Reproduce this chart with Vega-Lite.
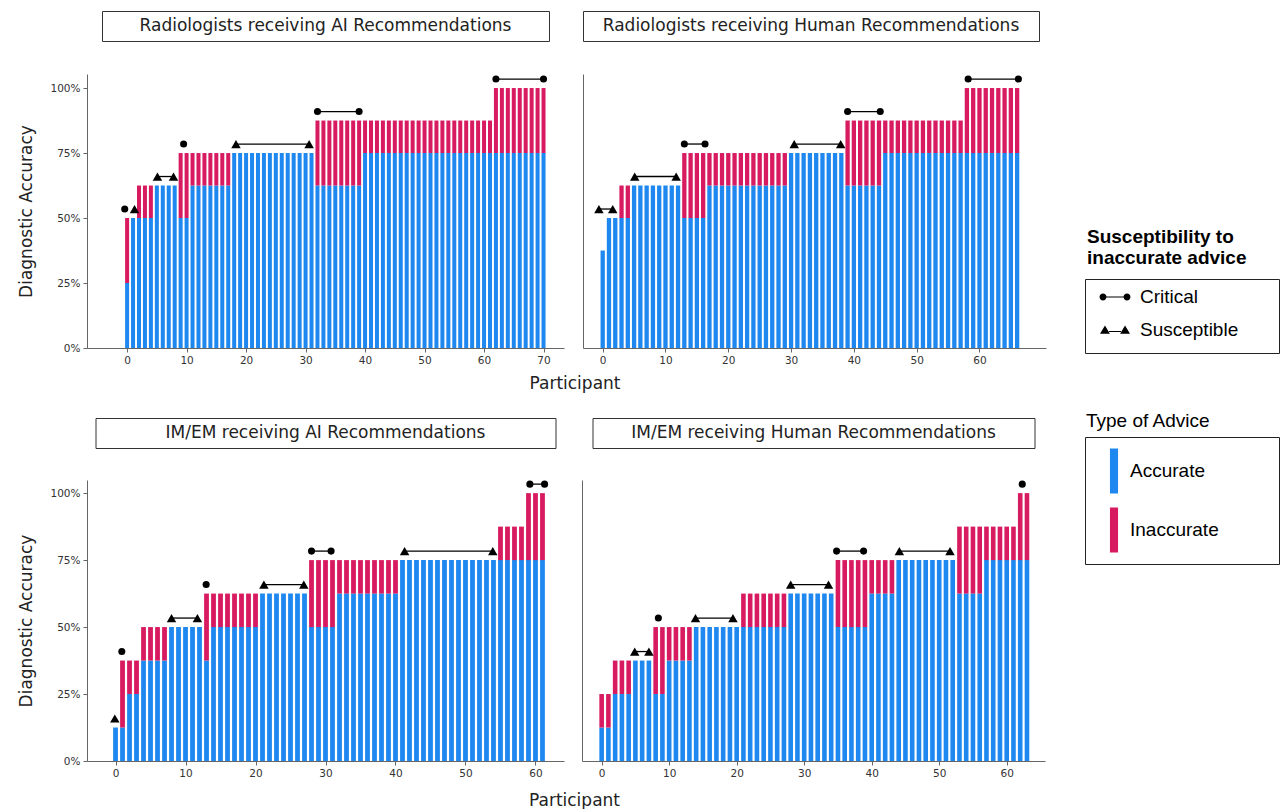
{
  "$schema": "https://vega.github.io/schema/vega-lite/v6.json",
  "background": "white",
  "padding": {"left": 17, "top": 10, "right": 0, "bottom": 0},
  "config": {
    "font": "DejaVu Sans",
    "view": {"stroke": null},
    "axis": {"labelFont": "DejaVu Sans", "labelFontSize": 10.5, "labelColor": "#333", "domainColor": "#666", "tickColor": "#666", "tickSize": 4, "labelPadding": 3, "grid": false, "titleFont": "DejaVu Sans", "titleFontSize": 17, "titleFontWeight": "normal", "titleColor": "#222"},
    "title": {"font": "DejaVu Sans", "fontWeight": "normal", "color": "#222"}
  },
  "datasets": {
    "ra": [
      {"p":0,"Accurate":0.25,"Inaccurate":0.25},{"p":1,"Accurate":0.5,"Inaccurate":0},{"p":2,"Accurate":0.5,"Inaccurate":0.125},{"p":3,"Accurate":0.5,"Inaccurate":0.125},{"p":4,"Accurate":0.5,"Inaccurate":0.125},
      {"p":5,"Accurate":0.625,"Inaccurate":0},{"p":6,"Accurate":0.625,"Inaccurate":0},{"p":7,"Accurate":0.625,"Inaccurate":0},{"p":8,"Accurate":0.625,"Inaccurate":0},
      {"p":9,"Accurate":0.5,"Inaccurate":0.25},{"p":10,"Accurate":0.5,"Inaccurate":0.25},
      {"p":11,"Accurate":0.625,"Inaccurate":0.125},{"p":12,"Accurate":0.625,"Inaccurate":0.125},{"p":13,"Accurate":0.625,"Inaccurate":0.125},{"p":14,"Accurate":0.625,"Inaccurate":0.125},{"p":15,"Accurate":0.625,"Inaccurate":0.125},{"p":16,"Accurate":0.625,"Inaccurate":0.125},{"p":17,"Accurate":0.625,"Inaccurate":0.125},
      {"p":18,"Accurate":0.75,"Inaccurate":0},{"p":19,"Accurate":0.75,"Inaccurate":0},{"p":20,"Accurate":0.75,"Inaccurate":0},{"p":21,"Accurate":0.75,"Inaccurate":0},{"p":22,"Accurate":0.75,"Inaccurate":0},{"p":23,"Accurate":0.75,"Inaccurate":0},{"p":24,"Accurate":0.75,"Inaccurate":0},{"p":25,"Accurate":0.75,"Inaccurate":0},{"p":26,"Accurate":0.75,"Inaccurate":0},{"p":27,"Accurate":0.75,"Inaccurate":0},{"p":28,"Accurate":0.75,"Inaccurate":0},{"p":29,"Accurate":0.75,"Inaccurate":0},{"p":30,"Accurate":0.75,"Inaccurate":0},{"p":31,"Accurate":0.75,"Inaccurate":0},
      {"p":32,"Accurate":0.625,"Inaccurate":0.25},{"p":33,"Accurate":0.625,"Inaccurate":0.25},{"p":34,"Accurate":0.625,"Inaccurate":0.25},{"p":35,"Accurate":0.625,"Inaccurate":0.25},{"p":36,"Accurate":0.625,"Inaccurate":0.25},{"p":37,"Accurate":0.625,"Inaccurate":0.25},{"p":38,"Accurate":0.625,"Inaccurate":0.25},{"p":39,"Accurate":0.625,"Inaccurate":0.25},
      {"p":40,"Accurate":0.75,"Inaccurate":0.125},{"p":41,"Accurate":0.75,"Inaccurate":0.125},{"p":42,"Accurate":0.75,"Inaccurate":0.125},{"p":43,"Accurate":0.75,"Inaccurate":0.125},{"p":44,"Accurate":0.75,"Inaccurate":0.125},{"p":45,"Accurate":0.75,"Inaccurate":0.125},{"p":46,"Accurate":0.75,"Inaccurate":0.125},{"p":47,"Accurate":0.75,"Inaccurate":0.125},{"p":48,"Accurate":0.75,"Inaccurate":0.125},{"p":49,"Accurate":0.75,"Inaccurate":0.125},{"p":50,"Accurate":0.75,"Inaccurate":0.125},{"p":51,"Accurate":0.75,"Inaccurate":0.125},{"p":52,"Accurate":0.75,"Inaccurate":0.125},{"p":53,"Accurate":0.75,"Inaccurate":0.125},{"p":54,"Accurate":0.75,"Inaccurate":0.125},{"p":55,"Accurate":0.75,"Inaccurate":0.125},{"p":56,"Accurate":0.75,"Inaccurate":0.125},{"p":57,"Accurate":0.75,"Inaccurate":0.125},{"p":58,"Accurate":0.75,"Inaccurate":0.125},{"p":59,"Accurate":0.75,"Inaccurate":0.125},{"p":60,"Accurate":0.75,"Inaccurate":0.125},{"p":61,"Accurate":0.75,"Inaccurate":0.125},
      {"p":62,"Accurate":0.75,"Inaccurate":0.25},{"p":63,"Accurate":0.75,"Inaccurate":0.25},{"p":64,"Accurate":0.75,"Inaccurate":0.25},{"p":65,"Accurate":0.75,"Inaccurate":0.25},{"p":66,"Accurate":0.75,"Inaccurate":0.25},{"p":67,"Accurate":0.75,"Inaccurate":0.25},{"p":68,"Accurate":0.75,"Inaccurate":0.25},{"p":69,"Accurate":0.75,"Inaccurate":0.25},{"p":70,"Accurate":0.75,"Inaccurate":0.25}
    ],
    "rh": [
      {"p":0,"Accurate":0.375,"Inaccurate":0},{"p":1,"Accurate":0.5,"Inaccurate":0},{"p":2,"Accurate":0.5,"Inaccurate":0},{"p":3,"Accurate":0.5,"Inaccurate":0.125},{"p":4,"Accurate":0.5,"Inaccurate":0.125},
      {"p":5,"Accurate":0.625,"Inaccurate":0},{"p":6,"Accurate":0.625,"Inaccurate":0},{"p":7,"Accurate":0.625,"Inaccurate":0},{"p":8,"Accurate":0.625,"Inaccurate":0},{"p":9,"Accurate":0.625,"Inaccurate":0},{"p":10,"Accurate":0.625,"Inaccurate":0},{"p":11,"Accurate":0.625,"Inaccurate":0},{"p":12,"Accurate":0.625,"Inaccurate":0},
      {"p":13,"Accurate":0.5,"Inaccurate":0.25},{"p":14,"Accurate":0.5,"Inaccurate":0.25},{"p":15,"Accurate":0.5,"Inaccurate":0.25},{"p":16,"Accurate":0.5,"Inaccurate":0.25},
      {"p":17,"Accurate":0.625,"Inaccurate":0.125},{"p":18,"Accurate":0.625,"Inaccurate":0.125},{"p":19,"Accurate":0.625,"Inaccurate":0.125},{"p":20,"Accurate":0.625,"Inaccurate":0.125},{"p":21,"Accurate":0.625,"Inaccurate":0.125},{"p":22,"Accurate":0.625,"Inaccurate":0.125},{"p":23,"Accurate":0.625,"Inaccurate":0.125},{"p":24,"Accurate":0.625,"Inaccurate":0.125},{"p":25,"Accurate":0.625,"Inaccurate":0.125},{"p":26,"Accurate":0.625,"Inaccurate":0.125},{"p":27,"Accurate":0.625,"Inaccurate":0.125},{"p":28,"Accurate":0.625,"Inaccurate":0.125},{"p":29,"Accurate":0.625,"Inaccurate":0.125},
      {"p":30,"Accurate":0.75,"Inaccurate":0},{"p":31,"Accurate":0.75,"Inaccurate":0},{"p":32,"Accurate":0.75,"Inaccurate":0},{"p":33,"Accurate":0.75,"Inaccurate":0},{"p":34,"Accurate":0.75,"Inaccurate":0},{"p":35,"Accurate":0.75,"Inaccurate":0},{"p":36,"Accurate":0.75,"Inaccurate":0},{"p":37,"Accurate":0.75,"Inaccurate":0},{"p":38,"Accurate":0.75,"Inaccurate":0},
      {"p":39,"Accurate":0.625,"Inaccurate":0.25},{"p":40,"Accurate":0.625,"Inaccurate":0.25},{"p":41,"Accurate":0.625,"Inaccurate":0.25},{"p":42,"Accurate":0.625,"Inaccurate":0.25},{"p":43,"Accurate":0.625,"Inaccurate":0.25},{"p":44,"Accurate":0.625,"Inaccurate":0.25},
      {"p":45,"Accurate":0.75,"Inaccurate":0.125},{"p":46,"Accurate":0.75,"Inaccurate":0.125},{"p":47,"Accurate":0.75,"Inaccurate":0.125},{"p":48,"Accurate":0.75,"Inaccurate":0.125},{"p":49,"Accurate":0.75,"Inaccurate":0.125},{"p":50,"Accurate":0.75,"Inaccurate":0.125},{"p":51,"Accurate":0.75,"Inaccurate":0.125},{"p":52,"Accurate":0.75,"Inaccurate":0.125},{"p":53,"Accurate":0.75,"Inaccurate":0.125},{"p":54,"Accurate":0.75,"Inaccurate":0.125},{"p":55,"Accurate":0.75,"Inaccurate":0.125},{"p":56,"Accurate":0.75,"Inaccurate":0.125},{"p":57,"Accurate":0.75,"Inaccurate":0.125},
      {"p":58,"Accurate":0.75,"Inaccurate":0.25},{"p":59,"Accurate":0.75,"Inaccurate":0.25},{"p":60,"Accurate":0.75,"Inaccurate":0.25},{"p":61,"Accurate":0.75,"Inaccurate":0.25},{"p":62,"Accurate":0.75,"Inaccurate":0.25},{"p":63,"Accurate":0.75,"Inaccurate":0.25},{"p":64,"Accurate":0.75,"Inaccurate":0.25},{"p":65,"Accurate":0.75,"Inaccurate":0.25},{"p":66,"Accurate":0.75,"Inaccurate":0.25}
    ],
    "ia": [
      {"p":0,"Accurate":0.125,"Inaccurate":0},{"p":1,"Accurate":0.125,"Inaccurate":0.25},{"p":2,"Accurate":0.25,"Inaccurate":0.125},{"p":3,"Accurate":0.25,"Inaccurate":0.125},
      {"p":4,"Accurate":0.375,"Inaccurate":0.125},{"p":5,"Accurate":0.375,"Inaccurate":0.125},{"p":6,"Accurate":0.375,"Inaccurate":0.125},{"p":7,"Accurate":0.375,"Inaccurate":0.125},
      {"p":8,"Accurate":0.5,"Inaccurate":0},{"p":9,"Accurate":0.5,"Inaccurate":0},{"p":10,"Accurate":0.5,"Inaccurate":0},{"p":11,"Accurate":0.5,"Inaccurate":0},{"p":12,"Accurate":0.5,"Inaccurate":0},
      {"p":13,"Accurate":0.375,"Inaccurate":0.25},
      {"p":14,"Accurate":0.5,"Inaccurate":0.125},{"p":15,"Accurate":0.5,"Inaccurate":0.125},{"p":16,"Accurate":0.5,"Inaccurate":0.125},{"p":17,"Accurate":0.5,"Inaccurate":0.125},{"p":18,"Accurate":0.5,"Inaccurate":0.125},{"p":19,"Accurate":0.5,"Inaccurate":0.125},{"p":20,"Accurate":0.5,"Inaccurate":0.125},
      {"p":21,"Accurate":0.625,"Inaccurate":0},{"p":22,"Accurate":0.625,"Inaccurate":0},{"p":23,"Accurate":0.625,"Inaccurate":0},{"p":24,"Accurate":0.625,"Inaccurate":0},{"p":25,"Accurate":0.625,"Inaccurate":0},{"p":26,"Accurate":0.625,"Inaccurate":0},{"p":27,"Accurate":0.625,"Inaccurate":0},
      {"p":28,"Accurate":0.5,"Inaccurate":0.25},{"p":29,"Accurate":0.5,"Inaccurate":0.25},{"p":30,"Accurate":0.5,"Inaccurate":0.25},{"p":31,"Accurate":0.5,"Inaccurate":0.25},
      {"p":32,"Accurate":0.625,"Inaccurate":0.125},{"p":33,"Accurate":0.625,"Inaccurate":0.125},{"p":34,"Accurate":0.625,"Inaccurate":0.125},{"p":35,"Accurate":0.625,"Inaccurate":0.125},{"p":36,"Accurate":0.625,"Inaccurate":0.125},{"p":37,"Accurate":0.625,"Inaccurate":0.125},{"p":38,"Accurate":0.625,"Inaccurate":0.125},{"p":39,"Accurate":0.625,"Inaccurate":0.125},{"p":40,"Accurate":0.625,"Inaccurate":0.125},
      {"p":41,"Accurate":0.75,"Inaccurate":0},{"p":42,"Accurate":0.75,"Inaccurate":0},{"p":43,"Accurate":0.75,"Inaccurate":0},{"p":44,"Accurate":0.75,"Inaccurate":0},{"p":45,"Accurate":0.75,"Inaccurate":0},{"p":46,"Accurate":0.75,"Inaccurate":0},{"p":47,"Accurate":0.75,"Inaccurate":0},{"p":48,"Accurate":0.75,"Inaccurate":0},{"p":49,"Accurate":0.75,"Inaccurate":0},{"p":50,"Accurate":0.75,"Inaccurate":0},{"p":51,"Accurate":0.75,"Inaccurate":0},{"p":52,"Accurate":0.75,"Inaccurate":0},{"p":53,"Accurate":0.75,"Inaccurate":0},{"p":54,"Accurate":0.75,"Inaccurate":0},
      {"p":55,"Accurate":0.75,"Inaccurate":0.125},{"p":56,"Accurate":0.75,"Inaccurate":0.125},{"p":57,"Accurate":0.75,"Inaccurate":0.125},{"p":58,"Accurate":0.75,"Inaccurate":0.125},
      {"p":59,"Accurate":0.75,"Inaccurate":0.25},{"p":60,"Accurate":0.75,"Inaccurate":0.25},{"p":61,"Accurate":0.75,"Inaccurate":0.25}
    ],
    "ih": [
      {"p":0,"Accurate":0.125,"Inaccurate":0.125},{"p":1,"Accurate":0.125,"Inaccurate":0.125},
      {"p":2,"Accurate":0.25,"Inaccurate":0.125},{"p":3,"Accurate":0.25,"Inaccurate":0.125},{"p":4,"Accurate":0.25,"Inaccurate":0.125},
      {"p":5,"Accurate":0.375,"Inaccurate":0},{"p":6,"Accurate":0.375,"Inaccurate":0},{"p":7,"Accurate":0.375,"Inaccurate":0},
      {"p":8,"Accurate":0.25,"Inaccurate":0.25},{"p":9,"Accurate":0.25,"Inaccurate":0.25},
      {"p":10,"Accurate":0.375,"Inaccurate":0.125},{"p":11,"Accurate":0.375,"Inaccurate":0.125},{"p":12,"Accurate":0.375,"Inaccurate":0.125},{"p":13,"Accurate":0.375,"Inaccurate":0.125},
      {"p":14,"Accurate":0.5,"Inaccurate":0},{"p":15,"Accurate":0.5,"Inaccurate":0},{"p":16,"Accurate":0.5,"Inaccurate":0},{"p":17,"Accurate":0.5,"Inaccurate":0},{"p":18,"Accurate":0.5,"Inaccurate":0},{"p":19,"Accurate":0.5,"Inaccurate":0},{"p":20,"Accurate":0.5,"Inaccurate":0},
      {"p":21,"Accurate":0.5,"Inaccurate":0.125},{"p":22,"Accurate":0.5,"Inaccurate":0.125},{"p":23,"Accurate":0.5,"Inaccurate":0.125},{"p":24,"Accurate":0.5,"Inaccurate":0.125},{"p":25,"Accurate":0.5,"Inaccurate":0.125},{"p":26,"Accurate":0.5,"Inaccurate":0.125},{"p":27,"Accurate":0.5,"Inaccurate":0.125},
      {"p":28,"Accurate":0.625,"Inaccurate":0},{"p":29,"Accurate":0.625,"Inaccurate":0},{"p":30,"Accurate":0.625,"Inaccurate":0},{"p":31,"Accurate":0.625,"Inaccurate":0},{"p":32,"Accurate":0.625,"Inaccurate":0},{"p":33,"Accurate":0.625,"Inaccurate":0},{"p":34,"Accurate":0.625,"Inaccurate":0},
      {"p":35,"Accurate":0.5,"Inaccurate":0.25},{"p":36,"Accurate":0.5,"Inaccurate":0.25},{"p":37,"Accurate":0.5,"Inaccurate":0.25},{"p":38,"Accurate":0.5,"Inaccurate":0.25},{"p":39,"Accurate":0.5,"Inaccurate":0.25},
      {"p":40,"Accurate":0.625,"Inaccurate":0.125},{"p":41,"Accurate":0.625,"Inaccurate":0.125},{"p":42,"Accurate":0.625,"Inaccurate":0.125},{"p":43,"Accurate":0.625,"Inaccurate":0.125},
      {"p":44,"Accurate":0.75,"Inaccurate":0},{"p":45,"Accurate":0.75,"Inaccurate":0},{"p":46,"Accurate":0.75,"Inaccurate":0},{"p":47,"Accurate":0.75,"Inaccurate":0},{"p":48,"Accurate":0.75,"Inaccurate":0},{"p":49,"Accurate":0.75,"Inaccurate":0},{"p":50,"Accurate":0.75,"Inaccurate":0},{"p":51,"Accurate":0.75,"Inaccurate":0},{"p":52,"Accurate":0.75,"Inaccurate":0},
      {"p":53,"Accurate":0.625,"Inaccurate":0.25},{"p":54,"Accurate":0.625,"Inaccurate":0.25},{"p":55,"Accurate":0.625,"Inaccurate":0.25},{"p":56,"Accurate":0.625,"Inaccurate":0.25},
      {"p":57,"Accurate":0.75,"Inaccurate":0.125},{"p":58,"Accurate":0.75,"Inaccurate":0.125},{"p":59,"Accurate":0.75,"Inaccurate":0.125},{"p":60,"Accurate":0.75,"Inaccurate":0.125},{"p":61,"Accurate":0.75,"Inaccurate":0.125},
      {"p":62,"Accurate":0.75,"Inaccurate":0.25},{"p":63,"Accurate":0.75,"Inaccurate":0.25}
    ],
    "m": [
      {"panel":"RA","g":1,"type":"Critical","x":-0.4,"level":0.5},
      {"panel":"RA","g":2,"type":"Susceptible","x":1.25,"level":0.5},
      {"panel":"RA","g":3,"type":"Susceptible","x":5.1,"level":0.625},{"panel":"RA","g":3,"type":"Susceptible","x":7.8,"level":0.625},
      {"panel":"RA","g":4,"type":"Critical","x":9.5,"level":0.75},
      {"panel":"RA","g":5,"type":"Susceptible","x":18.3,"level":0.75},{"panel":"RA","g":5,"type":"Susceptible","x":30.6,"level":0.75},
      {"panel":"RA","g":6,"type":"Critical","x":32,"level":0.875},{"panel":"RA","g":6,"type":"Critical","x":39,"level":0.875},
      {"panel":"RA","g":7,"type":"Critical","x":62,"level":1},{"panel":"RA","g":7,"type":"Critical","x":70,"level":1},
      {"panel":"RH","g":1,"type":"Susceptible","x":-0.6,"level":0.5},{"panel":"RH","g":1,"type":"Susceptible","x":1.6,"level":0.5},
      {"panel":"RH","g":2,"type":"Susceptible","x":5.1,"level":0.625},{"panel":"RH","g":2,"type":"Susceptible","x":11.7,"level":0.625},
      {"panel":"RH","g":3,"type":"Critical","x":13,"level":0.75},{"panel":"RH","g":3,"type":"Critical","x":16.3,"level":0.75},
      {"panel":"RH","g":4,"type":"Susceptible","x":30.5,"level":0.75},{"panel":"RH","g":4,"type":"Susceptible","x":37.9,"level":0.75},
      {"panel":"RH","g":5,"type":"Critical","x":39,"level":0.875},{"panel":"RH","g":5,"type":"Critical","x":44.2,"level":0.875},
      {"panel":"RH","g":6,"type":"Critical","x":58.2,"level":1},{"panel":"RH","g":6,"type":"Critical","x":66.2,"level":1},
      {"panel":"IA","g":1,"type":"Susceptible","x":-0.1,"level":0.125},
      {"panel":"IA","g":2,"type":"Critical","x":0.9,"level":0.375},
      {"panel":"IA","g":3,"type":"Susceptible","x":8,"level":0.5},{"panel":"IA","g":3,"type":"Susceptible","x":11.7,"level":0.5},
      {"panel":"IA","g":4,"type":"Critical","x":12.95,"level":0.625},
      {"panel":"IA","g":5,"type":"Susceptible","x":21.2,"level":0.625},{"panel":"IA","g":5,"type":"Susceptible","x":26.9,"level":0.625},
      {"panel":"IA","g":6,"type":"Critical","x":28,"level":0.75},{"panel":"IA","g":6,"type":"Critical","x":30.8,"level":0.75},
      {"panel":"IA","g":7,"type":"Susceptible","x":41.3,"level":0.75},{"panel":"IA","g":7,"type":"Susceptible","x":53.9,"level":0.75},
      {"panel":"IA","g":8,"type":"Critical","x":59.2,"level":1},{"panel":"IA","g":8,"type":"Critical","x":61.3,"level":1},
      {"panel":"IH","g":1,"type":"Susceptible","x":4.9,"level":0.375},{"panel":"IH","g":1,"type":"Susceptible","x":7,"level":0.375},
      {"panel":"IH","g":2,"type":"Critical","x":8.4,"level":0.5},
      {"panel":"IH","g":3,"type":"Susceptible","x":13.9,"level":0.5},{"panel":"IH","g":3,"type":"Susceptible","x":19.45,"level":0.5},
      {"panel":"IH","g":4,"type":"Susceptible","x":28,"level":0.625},{"panel":"IH","g":4,"type":"Susceptible","x":33.6,"level":0.625},
      {"panel":"IH","g":5,"type":"Critical","x":34.8,"level":0.75},{"panel":"IH","g":5,"type":"Critical","x":38.8,"level":0.75},
      {"panel":"IH","g":6,"type":"Susceptible","x":44.1,"level":0.75},{"panel":"IH","g":6,"type":"Susceptible","x":51.6,"level":0.75},
      {"panel":"IH","g":7,"type":"Critical","x":62.3,"level":1}
    ]
  },
  "resolve": {"scale": {"color": "independent", "shape": "independent"}, "legend": {"color": "independent", "shape": "independent"}},
  "spacing": 38,
  "hconcat": [
    {
      "vconcat": [
        {
          "hconcat": [
            {
              "vconcat": [
                {"width": 447, "height": 30, "view": {"stroke": "#333", "strokeWidth": 1}, "data": {"values": [{"t": "Radiologists receiving AI Recommendations"}]}, "mark": {"type": "text", "fontSize": 17, "baseline": "middle", "align": "center", "color": "#222"}, "encoding": {"text": {"field": "t"}}},
                {
                  "width": 477, "height": 274,
                  "layer": [
                    {"data": {"name": "ra"}, "transform": [{"fold": ["Accurate", "Inaccurate"], "as": ["advice", "value"]}, {"filter": "datum.value > 0"}],
                     "mark": {"type": "bar", "width": 4},
                     "encoding": {
                       "x": {"field": "p", "type": "quantitative", "title": null, "scale": {"domain": [-5.9, 72.6], "nice": false, "zero": false}, "axis": {"values": [0, 10, 20, 30, 40, 50, 60, 70]}},
                       "y": {"field": "value", "type": "quantitative", "title": "Diagnostic Accuracy", "stack": "zero", "scale": {"domain": [0, 1.054], "nice": false}, "axis": {"values": [0, 0.25, 0.5, 0.75, 1], "format": ".0%", "titlePadding": 14}},
                       "color": {"field": "advice", "type": "nominal", "scale": {"domain": ["Accurate", "Inaccurate"], "range": ["#1e88f0", "#d81b60"]}, "legend": null},
                       "order": {"field": "advice", "type": "nominal", "sort": "ascending"}}},
                    {"data": {"name": "m"}, "transform": [{"filter": "datum.panel == 'RA'"}], "mark": {"type": "rule", "color": "black", "strokeWidth": 1.3, "yOffset": -9},
                     "encoding": {"x": {"aggregate": "min", "field": "x", "type": "quantitative", "title": null}, "x2": {"aggregate": "max", "field": "x"}, "y": {"field": "level", "type": "quantitative", "title": "Diagnostic Accuracy"}, "detail": {"field": "g", "type": "nominal"}}},
                    {"data": {"name": "m"}, "transform": [{"filter": "datum.panel == 'RA' && datum.type == 'Critical'"}], "mark": {"type": "point", "shape": "circle", "filled": true, "color": "black", "opacity": 1, "size": 50, "yOffset": -9},
                     "encoding": {"x": {"field": "x", "type": "quantitative", "title": null}, "y": {"field": "level", "type": "quantitative", "title": "Diagnostic Accuracy"}}},
                    {"data": {"name": "m"}, "transform": [{"filter": "datum.panel == 'RA' && datum.type == 'Susceptible'"}], "mark": {"type": "point", "shape": "triangle-up", "filled": true, "color": "black", "opacity": 1, "size": 90, "yOffset": -9},
                     "encoding": {"x": {"field": "x", "type": "quantitative", "title": null}, "y": {"field": "level", "type": "quantitative", "title": "Diagnostic Accuracy"}}}
                  ]
                }
              ],
              "spacing": 33, "center": true, "bounds": "flush"
            },
            {
              "vconcat": [
                {"width": 456, "height": 30, "view": {"stroke": "#333", "strokeWidth": 1}, "data": {"values": [{"t": "Radiologists receiving Human Recommendations"}]}, "mark": {"type": "text", "fontSize": 17, "baseline": "middle", "align": "center", "color": "#222"}, "encoding": {"text": {"field": "t"}}},
                {
                  "width": 463, "height": 274,
                  "layer": [
                    {"data": {"name": "rh"}, "transform": [{"fold": ["Accurate", "Inaccurate"], "as": ["advice", "value"]}, {"filter": "datum.value > 0"}],
                     "mark": {"type": "bar", "width": 4.3},
                     "encoding": {
                       "x": {"field": "p", "type": "quantitative", "title": null, "scale": {"domain": [-2.34, 69.8], "nice": false, "zero": false}, "axis": {"values": [0, 10, 20, 30, 40, 50, 60]}},
                       "y": {"field": "value", "type": "quantitative", "title": null, "stack": "zero", "scale": {"domain": [0, 1.054], "nice": false}, "axis": {"ticks": false, "labels": false}},
                       "color": {"field": "advice", "type": "nominal", "scale": {"domain": ["Accurate", "Inaccurate"], "range": ["#1e88f0", "#d81b60"]}, "legend": null},
                       "order": {"field": "advice", "type": "nominal", "sort": "ascending"}}},
                    {"data": {"name": "m"}, "transform": [{"filter": "datum.panel == 'RH'"}], "mark": {"type": "rule", "color": "black", "strokeWidth": 1.3, "yOffset": -9},
                     "encoding": {"x": {"aggregate": "min", "field": "x", "type": "quantitative", "title": null}, "x2": {"aggregate": "max", "field": "x"}, "y": {"field": "level", "type": "quantitative", "title": null}, "detail": {"field": "g", "type": "nominal"}}},
                    {"data": {"name": "m"}, "transform": [{"filter": "datum.panel == 'RH' && datum.type == 'Critical'"}], "mark": {"type": "point", "shape": "circle", "filled": true, "color": "black", "opacity": 1, "size": 50, "yOffset": -9},
                     "encoding": {"x": {"field": "x", "type": "quantitative", "title": null}, "y": {"field": "level", "type": "quantitative", "title": null}}},
                    {"data": {"name": "m"}, "transform": [{"filter": "datum.panel == 'RH' && datum.type == 'Susceptible'"}], "mark": {"type": "point", "shape": "triangle-up", "filled": true, "color": "black", "opacity": 1, "size": 90, "yOffset": -9},
                     "encoding": {"x": {"field": "x", "type": "quantitative", "title": null}, "y": {"field": "level", "type": "quantitative", "title": null}}}
                  ]
                }
              ],
              "spacing": 33, "bounds": "flush"
            }
          ],
          "spacing": 18,
          "title": {"text": "Participant", "orient": "bottom", "anchor": "middle", "dx": 43, "offset": 10, "fontSize": 17, "fontWeight": "normal", "font": "DejaVu Sans", "color": "#222"}
        },
        {
          "hconcat": [
            {
              "vconcat": [
                {"width": 460, "height": 30, "view": {"stroke": "#333", "strokeWidth": 1}, "data": {"values": [{"t": "IM/EM receiving AI Recommendations"}]}, "mark": {"type": "text", "fontSize": 17, "baseline": "middle", "align": "center", "color": "#222"}, "encoding": {"text": {"field": "t"}}},
                {
                  "width": 477, "height": 281,
                  "layer": [
                    {"data": {"name": "ia"}, "transform": [{"fold": ["Accurate", "Inaccurate"], "as": ["advice", "value"]}, {"filter": "datum.value > 0"}],
                     "mark": {"type": "bar", "width": 4.8},
                     "encoding": {
                       "x": {"field": "p", "type": "quantitative", "title": null, "scale": {"domain": [-3.36, 63.36], "nice": false, "zero": false}, "axis": {"values": [0, 10, 20, 30, 40, 50, 60]}},
                       "y": {"field": "value", "type": "quantitative", "title": "Diagnostic Accuracy", "stack": "zero", "scale": {"domain": [0, 1.049], "nice": false}, "axis": {"values": [0, 0.25, 0.5, 0.75, 1], "format": ".0%", "titlePadding": 14}},
                       "color": {"field": "advice", "type": "nominal", "scale": {"domain": ["Accurate", "Inaccurate"], "range": ["#1e88f0", "#d81b60"]}, "legend": null},
                       "order": {"field": "advice", "type": "nominal", "sort": "ascending"}}},
                    {"data": {"name": "m"}, "transform": [{"filter": "datum.panel == 'IA'"}], "mark": {"type": "rule", "color": "black", "strokeWidth": 1.3, "yOffset": -9},
                     "encoding": {"x": {"aggregate": "min", "field": "x", "type": "quantitative", "title": null}, "x2": {"aggregate": "max", "field": "x"}, "y": {"field": "level", "type": "quantitative", "title": "Diagnostic Accuracy"}, "detail": {"field": "g", "type": "nominal"}}},
                    {"data": {"name": "m"}, "transform": [{"filter": "datum.panel == 'IA' && datum.type == 'Critical'"}], "mark": {"type": "point", "shape": "circle", "filled": true, "color": "black", "opacity": 1, "size": 50, "yOffset": -9},
                     "encoding": {"x": {"field": "x", "type": "quantitative", "title": null}, "y": {"field": "level", "type": "quantitative", "title": "Diagnostic Accuracy"}}},
                    {"data": {"name": "m"}, "transform": [{"filter": "datum.panel == 'IA' && datum.type == 'Susceptible'"}], "mark": {"type": "point", "shape": "triangle-up", "filled": true, "color": "black", "opacity": 1, "size": 90, "yOffset": -9},
                     "encoding": {"x": {"field": "x", "type": "quantitative", "title": null}, "y": {"field": "level", "type": "quantitative", "title": "Diagnostic Accuracy"}}}
                  ]
                }
              ],
              "spacing": 32, "center": true, "bounds": "flush"
            },
            {
              "vconcat": [
                {"width": 442, "height": 30, "view": {"stroke": "#333", "strokeWidth": 1}, "data": {"values": [{"t": "IM/EM receiving Human Recommendations"}]}, "mark": {"type": "text", "fontSize": 17, "baseline": "middle", "align": "center", "color": "#222"}, "encoding": {"text": {"field": "t"}}},
                {
                  "width": 463, "height": 281,
                  "layer": [
                    {"data": {"name": "ih"}, "transform": [{"fold": ["Accurate", "Inaccurate"], "as": ["advice", "value"]}, {"filter": "datum.value > 0"}],
                     "mark": {"type": "bar", "width": 4.6},
                     "encoding": {
                       "x": {"field": "p", "type": "quantitative", "title": null, "scale": {"domain": [-2.17, 64.93], "nice": false, "zero": false}, "axis": {"values": [0, 10, 20, 30, 40, 50, 60]}},
                       "y": {"field": "value", "type": "quantitative", "title": null, "stack": "zero", "scale": {"domain": [0, 1.049], "nice": false}, "axis": {"ticks": false, "labels": false}},
                       "color": {"field": "advice", "type": "nominal", "scale": {"domain": ["Accurate", "Inaccurate"], "range": ["#1e88f0", "#d81b60"]}, "legend": null},
                       "order": {"field": "advice", "type": "nominal", "sort": "ascending"}}},
                    {"data": {"name": "m"}, "transform": [{"filter": "datum.panel == 'IH'"}], "mark": {"type": "rule", "color": "black", "strokeWidth": 1.3, "yOffset": -9},
                     "encoding": {"x": {"aggregate": "min", "field": "x", "type": "quantitative", "title": null}, "x2": {"aggregate": "max", "field": "x"}, "y": {"field": "level", "type": "quantitative", "title": null}, "detail": {"field": "g", "type": "nominal"}}},
                    {"data": {"name": "m"}, "transform": [{"filter": "datum.panel == 'IH' && datum.type == 'Critical'"}], "mark": {"type": "point", "shape": "circle", "filled": true, "color": "black", "opacity": 1, "size": 50, "yOffset": -9},
                     "encoding": {"x": {"field": "x", "type": "quantitative", "title": null}, "y": {"field": "level", "type": "quantitative", "title": null}}},
                    {"data": {"name": "m"}, "transform": [{"filter": "datum.panel == 'IH' && datum.type == 'Susceptible'"}], "mark": {"type": "point", "shape": "triangle-up", "filled": true, "color": "black", "opacity": 1, "size": 90, "yOffset": -9},
                     "encoding": {"x": {"field": "x", "type": "quantitative", "title": null}, "y": {"field": "level", "type": "quantitative", "title": null}}}
                  ]
                }
              ],
              "spacing": 32, "center": true, "bounds": "flush"
            }
          ],
          "spacing": 18,
          "title": {"text": "Participant", "orient": "bottom", "anchor": "middle", "dx": 43, "offset": 14, "fontSize": 17, "fontWeight": "normal", "font": "DejaVu Sans", "color": "#222"}
        }
      ],
      "spacing": 25
    },
    {
      "vconcat": [
        {"width": 194, "height": 184, "data": {"name": "m"}, "mark": {"type": "point", "opacity": 0}},
        {
          "width": 194, "height": 74,
          "view": {"stroke": "#222", "strokeWidth": 1},
          "title": {"text": ["Susceptibility to", "inaccurate advice"], "anchor": "start", "frame": "group", "orient": "top", "font": "Liberation Sans", "fontSize": 19, "fontWeight": "bold", "color": "black", "lineHeight": 21, "offset": 11, "dx": 2},
          "data": {"name": "m"},
          "mark": {"type": "point", "opacity": 0, "filled": true, "color": "black"},
          "encoding": {
            "shape": {"field": "type", "type": "nominal",
              "scale": {"domain": ["Critical", "Susceptible"], "range": [
                "M -0.57 0 C -0.57 0.127 -0.673 0.23 -0.8 0.23 C -0.927 0.23 -1.03 0.127 -1.03 0 C -1.03 -0.127 -0.927 -0.23 -0.8 -0.23 C -0.673 -0.23 -0.57 -0.127 -0.57 0 Z M 1.03 0 C 1.03 0.127 0.927 0.23 0.8 0.23 C 0.673 0.23 0.57 0.127 0.57 0 C 0.57 -0.127 0.673 -0.23 0.8 -0.23 C 0.927 -0.23 1.03 -0.127 1.03 0 Z M -0.6 -0.04 L 0.6 -0.04 L 0.6 0.04 L -0.6 0.04 Z",
                "M -1 0.25 L -0.67 -0.3 L -0.34 0.25 Z M 0.34 0.25 L 0.67 -0.3 L 1 0.25 Z M -0.4 0.06 L 0.4 0.06 L 0.4 0.14 L -0.4 0.14 Z"
              ]},
              "legend": {"title": null, "orient": "none", "legendX": 15, "legendY": 3, "direction": "vertical", "padding": 0, "symbolSize": 900, "symbolFillColor": "black", "symbolStrokeColor": "black", "symbolStrokeWidth": 0, "symbolOpacity": 1, "labelFont": "Liberation Sans", "labelFontSize": 19, "labelColor": "black", "labelOffset": 10, "rowPadding": 8, "labelLimit": 300}
            }
          }
        },
        {
          "width": 194, "height": 127,
          "view": {"stroke": "#222", "strokeWidth": 1},
          "title": {"text": "Type of Advice", "anchor": "start", "frame": "group", "orient": "top", "font": "Liberation Sans", "fontSize": 19, "fontWeight": "normal", "color": "black", "offset": 6, "dx": 1},
          "data": {"name": "ra"},
          "transform": [{"fold": ["Accurate", "Inaccurate"], "as": ["advice", "value"]}],
          "mark": {"type": "point", "opacity": 0, "filled": true},
          "encoding": {
            "color": {"field": "advice", "type": "nominal", "scale": {"domain": ["Accurate", "Inaccurate"], "range": ["#1e88f0", "#d81b60"]},
              "legend": {"title": null, "orient": "none", "legendX": 6.5, "legendY": 11.5, "direction": "vertical", "padding": 0, "symbolType": "M -0.18 -1 L 0.18 -1 L 0.18 1 L -0.18 1 Z", "symbolSize": 2025, "symbolStrokeWidth": 0, "symbolOpacity": 1, "labelFont": "Liberation Sans", "labelFontSize": 19, "labelColor": "black", "labelOffset": -6.5, "rowPadding": 14, "labelLimit": 300}
            }
          }
        }
      ],
      "spacing": 84, "bounds": "flush",
      "resolve": {"scale": {"color": "independent", "shape": "independent"}, "legend": {"color": "independent", "shape": "independent"}}
    }
  ]
}
